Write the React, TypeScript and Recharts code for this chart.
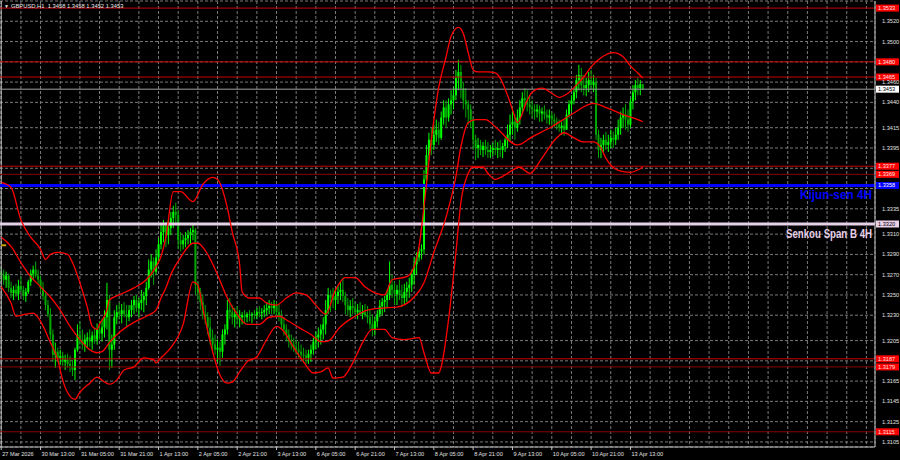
import React from 'react';
import { ComposedChart, Bar, Line, XAxis, YAxis, ReferenceLine, CartesianGrid } from 'recharts';

const SLOTS = 356;
const symbolTitle = 'GBPUSD,H1  1.3458 1.3458 1.3452 1.3453';
const dateLabels: Record<number, string> = {
  0: '27 Mar 2026', 16: '30 Mar 13:00', 32: '31 Mar 05:00', 48: '31 Mar 21:00', 64: '1 Apr 13:00',
  80: '2 Apr 05:00', 96: '2 Apr 21:00', 112: '3 Apr 13:00', 128: '6 Apr 05:00', 144: '6 Apr 21:00',
  160: '7 Apr 13:00', 176: '8 Apr 05:00', 192: '8 Apr 21:00', 208: '9 Apr 13:00', 224: '10 Apr 05:00',
  240: '10 Apr 21:00', 256: '13 Apr 13:00',
};
const priceTicks = [1.3105, 1.3125, 1.3145, 1.3165, 1.3185, 1.3205, 1.323, 1.325, 1.327, 1.329, 1.331, 1.3335, 1.3355, 1.3375, 1.3395, 1.3415, 1.344, 1.346, 1.348, 1.35, 1.352];
const hiddenTicks = [1.3185, 1.3355, 1.3375, 1.348];

const firstOpen = 1.3272;
const highs = [
  1.3277,1.3275,1.3273,1.3271,1.3263,1.3259,1.3261,1.3265,1.3268,1.3259,
  1.3257,1.3265,1.3275,1.3279,1.3283,1.3275,1.3269,1.3263,1.3253,1.3245,
  1.3237,1.3216,1.3203,1.3198,1.3196,1.3194,1.3191,1.3192,1.3190,1.3186,
  1.3198,1.3221,1.3224,1.3216,1.3211,1.3213,1.3216,1.3214,1.3218,1.3222,
  1.3224,1.3226,1.3235,1.3262,1.3250,1.3211,1.3235,1.3240,1.3242,1.3241,
  1.3243,1.3240,1.3240,1.3245,1.3249,1.3250,1.3247,1.3255,1.3253,1.3263,
  1.3285,1.3290,1.3287,1.3295,1.3306,1.3319,1.3324,1.3322,1.3324,1.3332,
  1.3338,1.3341,1.3334,1.3312,1.3309,1.3312,1.3314,1.3316,1.3319,1.3316,
  1.3263,1.3257,1.3250,1.3240,1.3233,1.3228,1.3216,1.3211,1.3206,1.3204,
  1.3216,1.3221,1.3245,1.3247,1.3240,1.3237,1.3239,1.3235,1.3233,1.3235,
  1.3233,1.3235,1.3233,1.3235,1.3237,1.3239,1.3237,1.3240,1.3243,1.3245,
  1.3243,1.3245,1.3243,1.3241,1.3235,1.3228,1.3221,1.3216,1.3211,1.3208,
  1.3206,1.3204,1.3201,1.3198,1.3196,1.3196,1.3201,1.3208,1.3214,1.3218,
  1.3221,1.3228,1.3245,1.3257,1.3255,1.3257,1.3255,1.3259,1.3263,1.3267,
  1.3253,1.3247,1.3245,1.3247,1.3243,1.3241,1.3243,1.3240,1.3241,1.3239,
  1.3235,1.3231,1.3228,1.3235,1.3245,1.3247,1.3249,1.3255,1.3283,1.3270,
  1.3263,1.3260,1.3265,1.3260,1.3261,1.3263,1.3267,1.3275,1.3287,1.3292,
  1.3297,1.3300,1.3373,1.3398,1.3410,1.3415,1.3418,1.3423,1.3421,1.3431,
  1.3442,1.3442,1.3444,1.3452,1.3455,1.3472,1.3482,1.3477,1.3460,1.3454,
  1.3442,1.3438,1.3425,1.3408,1.3405,1.3403,1.3401,1.3403,1.3401,1.3398,
  1.3400,1.3403,1.3401,1.3403,1.3400,1.3405,1.3418,1.3428,1.3435,1.3428,
  1.3433,1.3442,1.3450,1.3454,1.3452,1.3447,1.3442,1.3438,1.3438,1.3437,
  1.3435,1.3437,1.3433,1.3433,1.3431,1.3429,1.3425,1.3423,1.3421,1.3423,
  1.3433,1.3442,1.3447,1.3454,1.3467,1.3477,1.3474,1.3467,1.3464,1.3470,
  1.3472,1.3467,1.3464,1.3413,1.3405,1.3408,1.3411,1.3408,1.3413,1.3411,
  1.3415,1.3423,1.3431,1.3435,1.3438,1.3433,1.3444,1.3457,1.3462,1.3464,
  1.3462,1.3458,
];
const lows = [
  1.3263,1.3260,1.3257,1.3253,1.3247,1.3245,1.3248,1.3245,1.3253,1.3245,
  1.3243,1.3251,1.3259,1.3265,1.3267,1.3261,1.3253,1.3245,1.3235,1.3228,
  1.3206,1.3184,1.3178,1.3184,1.3181,1.3180,1.3176,1.3178,1.3174,1.3170,
  1.3166,1.3194,1.3201,1.3196,1.3194,1.3198,1.3199,1.3196,1.3202,1.3201,
  1.3206,1.3204,1.3208,1.3216,1.3176,1.3178,1.3196,1.3221,1.3226,1.3222,
  1.3228,1.3219,1.3224,1.3228,1.3231,1.3233,1.3228,1.3235,1.3233,1.3240,
  1.3255,1.3267,1.3260,1.3270,1.3283,1.3295,1.3302,1.3297,1.3300,1.3309,
  1.3316,1.3319,1.3295,1.3293,1.3295,1.3297,1.3300,1.3300,1.3304,1.3250,
  1.3245,1.3235,1.3226,1.3221,1.3211,1.3201,1.3194,1.3191,1.3184,1.3180,
  1.3188,1.3201,1.3211,1.3226,1.3221,1.3218,1.3221,1.3218,1.3221,1.3222,
  1.3223,1.3224,1.3222,1.3226,1.3226,1.3228,1.3226,1.3228,1.3230,1.3231,
  1.3231,1.3231,1.3228,1.3224,1.3216,1.3210,1.3204,1.3198,1.3196,1.3194,
  1.3191,1.3188,1.3186,1.3184,1.3182,1.3182,1.3184,1.3191,1.3196,1.3198,
  1.3201,1.3206,1.3211,1.3231,1.3233,1.3237,1.3235,1.3241,1.3245,1.3243,
  1.3231,1.3230,1.3228,1.3231,1.3228,1.3226,1.3230,1.3226,1.3228,1.3222,
  1.3216,1.3209,1.3210,1.3218,1.3228,1.3230,1.3233,1.3237,1.3245,1.3247,
  1.3240,1.3240,1.3245,1.3238,1.3241,1.3243,1.3247,1.3253,1.3260,1.3270,
  1.3283,1.3285,1.3290,1.3359,1.3383,1.3388,1.3393,1.3401,1.3398,1.3403,
  1.3418,1.3415,1.3421,1.3428,1.3433,1.3442,1.3452,1.3444,1.3433,1.3425,
  1.3418,1.3415,1.3393,1.3383,1.3385,1.3388,1.3386,1.3388,1.3385,1.3385,
  1.3387,1.3388,1.3385,1.3386,1.3385,1.3391,1.3395,1.3401,1.3408,1.3403,
  1.3411,1.3418,1.3428,1.3435,1.3431,1.3428,1.3425,1.3423,1.3425,1.3421,
  1.3421,1.3423,1.3419,1.3418,1.3417,1.3415,1.3413,1.3411,1.3408,1.3407,
  1.3413,1.3425,1.3431,1.3438,1.3444,1.3452,1.3450,1.3447,1.3446,1.3450,
  1.3452,1.3450,1.3403,1.3385,1.3385,1.3391,1.3393,1.3391,1.3395,1.3395,
  1.3398,1.3403,1.3408,1.3415,1.3413,1.3411,1.3415,1.3433,1.3442,1.3447,
  1.3447,1.3452,
];
const closes = [
  1.3270,1.3265,1.3269,1.3257,1.3252,1.3255,1.3251,1.3259,1.3255,1.3249,
  1.3253,1.3263,1.3271,1.3275,1.3269,1.3265,1.3257,1.3249,1.3240,1.3231,
  1.3211,1.3191,1.3194,1.3188,1.3190,1.3184,1.3186,1.3182,1.3180,1.3176,
  1.3196,1.3211,1.3206,1.3201,1.3206,1.3208,1.3204,1.3210,1.3206,1.3216,
  1.3212,1.3218,1.3228,1.3245,1.3196,1.3201,1.3228,1.3233,1.3231,1.3235,
  1.3231,1.3228,1.3235,1.3240,1.3245,1.3237,1.3242,1.3245,1.3249,1.3257,
  1.3275,1.3283,1.3273,1.3287,1.3300,1.3312,1.3318,1.3309,1.3316,1.3326,
  1.3332,1.3329,1.3304,1.3300,1.3304,1.3306,1.3309,1.3312,1.3314,1.3260,
  1.3253,1.3243,1.3231,1.3228,1.3218,1.3208,1.3201,1.3196,1.3198,1.3194,
  1.3211,1.3216,1.3235,1.3233,1.3228,1.3231,1.3226,1.3228,1.3230,1.3228,
  1.3231,1.3230,1.3231,1.3230,1.3233,1.3232,1.3233,1.3235,1.3237,1.3239,
  1.3237,1.3240,1.3233,1.3228,1.3221,1.3216,1.3211,1.3204,1.3201,1.3198,
  1.3196,1.3194,1.3191,1.3190,1.3188,1.3192,1.3196,1.3204,1.3208,1.3211,
  1.3216,1.3221,1.3235,1.3250,1.3247,1.3245,1.3249,1.3253,1.3255,1.3249,
  1.3240,1.3235,1.3239,1.3237,1.3233,1.3235,1.3231,1.3233,1.3230,1.3228,
  1.3221,1.3216,1.3224,1.3231,1.3239,1.3243,1.3245,1.3250,1.3260,1.3255,
  1.3251,1.3255,1.3250,1.3247,1.3253,1.3257,1.3260,1.3270,1.3280,1.3287,
  1.3293,1.3295,1.3364,1.3388,1.3403,1.3398,1.3408,1.3413,1.3405,1.3425,
  1.3435,1.3425,1.3438,1.3442,1.3447,1.3464,1.3470,1.3454,1.3442,1.3438,
  1.3433,1.3423,1.3403,1.3395,1.3398,1.3393,1.3397,1.3393,1.3391,1.3393,
  1.3395,1.3393,1.3395,1.3393,1.3397,1.3403,1.3408,1.3418,1.3421,1.3415,
  1.3425,1.3435,1.3444,1.3442,1.3438,1.3435,1.3433,1.3431,1.3433,1.3429,
  1.3431,1.3428,1.3425,1.3427,1.3423,1.3421,1.3418,1.3415,1.3417,1.3413,
  1.3428,1.3438,1.3442,1.3450,1.3462,1.3467,1.3457,1.3454,1.3457,1.3462,
  1.3457,1.3460,1.3408,1.3393,1.3398,1.3403,1.3398,1.3401,1.3405,1.3403,
  1.3408,1.3415,1.3425,1.3428,1.3423,1.3418,1.3441,1.3450,1.3457,1.3454,
  1.3458,1.3453,
];

// Bollinger bands read at sampled bars: [bar index, price]
const upperBand: [number, number][] = [
  [0,1.3361],[4,1.3356],[8,1.3324],[12,1.3307],[16,1.3295],[18,1.3285],[20,1.3290],[23,1.3292],[27,1.3290],[29,1.3282],
  [32,1.3262],[35,1.3238],[37,1.3219],[39,1.3216],[40,1.3221],[43,1.3235],[44,1.3245],[48,1.3250],[54,1.3257],[59,1.3265],
  [63,1.3278],[65,1.3288],[67,1.3307],[70,1.3352],[73,1.3352],[78,1.3342],[82,1.3359],[86,1.3366],[88,1.3364],[92,1.3336],
  [94,1.3312],[97,1.3280],[98,1.3253],[101,1.3247],[105,1.3247],[108,1.3242],[112,1.3240],[116,1.3247],[120,1.3252],[124,1.3250],
  [128,1.3240],[132,1.3231],[136,1.3255],[140,1.3267],[144,1.3267],[148,1.3258],[152,1.3252],[156,1.3250],[159,1.3265],[165,1.3268],
  [168,1.3278],[170,1.3298],[172,1.3337],[175,1.3403],[178,1.3455],[181,1.3485],[183,1.3505],[186,1.3514],[188,1.3508],[190,1.3489],
  [192,1.3472],[194,1.3470],[198,1.3470],[201,1.3469],[203,1.3464],[206,1.3447],[208,1.3433],[210,1.3420],[214,1.3442],[216,1.3450],
  [220,1.3454],[224,1.3449],[227,1.3445],[230,1.3448],[234,1.3457],[237,1.3465],[240,1.3475],[244,1.3484],[249,1.3489],[253,1.3485],
  [256,1.3476],[259,1.3469],[261,1.3464],
];
const middleBand: [number, number][] = [
  [0,1.3307],[4,1.3298],[8,1.3282],[12,1.3268],[16,1.3258],[20,1.3248],[24,1.3235],[28,1.3219],[32,1.3206],[36,1.3196],
  [39,1.3193],[41,1.3194],[44,1.3203],[48,1.3213],[54,1.3223],[59,1.3229],[63,1.3235],[65,1.3247],[67,1.3257],[69,1.3270],
  [73,1.3287],[78,1.3301],[80,1.3301],[84,1.3290],[88,1.3270],[92,1.3247],[96,1.3231],[100,1.3221],[105,1.3221],[109,1.3228],
  [113,1.3229],[117,1.3224],[121,1.3218],[126,1.3211],[130,1.3204],[132,1.3204],[134,1.3206],[137,1.3216],[144,1.3229],[149,1.3235],
  [155,1.3237],[161,1.3238],[168,1.3248],[172,1.3262],[176,1.3292],[181,1.3327],[185,1.3367],[187,1.3396],[190,1.3420],[193,1.3423],
  [197,1.3423],[201,1.3416],[210,1.3398],[216,1.3406],[224,1.3416],[232,1.3428],[241,1.3439],[246,1.3435],[253,1.3428],[259,1.3423],
  [261,1.3421],
];
const lowerBand: [number, number][] = [
  [0,1.3258],[4,1.3242],[6,1.3229],[10,1.3231],[13,1.3232],[16,1.3224],[20,1.3203],[23,1.3186],[25,1.3166],[28,1.3150],
  [30,1.3147],[32,1.3154],[36,1.3163],[39,1.3169],[41,1.3166],[44,1.3162],[47,1.3166],[50,1.3176],[54,1.3179],[58,1.3188],
  [62,1.3186],[63,1.3183],[65,1.3188],[69,1.3198],[74,1.3221],[78,1.3263],[80,1.3260],[82,1.3237],[86,1.3194],[89,1.3171],
  [92,1.3163],[94,1.3164],[97,1.3174],[100,1.3184],[104,1.3189],[108,1.3206],[112,1.3219],[115,1.3214],[119,1.3198],[123,1.3184],
  [127,1.3173],[130,1.3174],[133,1.3178],[135,1.3168],[139,1.3169],[143,1.3183],[147,1.3203],[151,1.3216],[156,1.3216],[159,1.3208],
  [164,1.3206],[170,1.3208],[172,1.3193],[175,1.3173],[178,1.3173],[179,1.3179],[182,1.3226],[185,1.3292],[187,1.3341],[190,1.3370],
  [192,1.3376],[196,1.3376],[198,1.3370],[201,1.3364],[204,1.3367],[211,1.3376],[215,1.3370],[220,1.3385],[226,1.3405],[229,1.3410],
  [233,1.3405],[237,1.3401],[241,1.3401],[244,1.3395],[246,1.3385],[251,1.3373],[256,1.3371],[261,1.3376],
];

const redLevels = [
  { price: 1.3533, line: '#c80000' },
  { price: 1.348, line: '#c80000' },
  { price: 1.3465, line: '#c80000' },
  { price: 1.3377, line: '#c80000' },
  { price: 1.3369, line: '#8a0000' },
  { price: 1.3187, line: '#c80000' },
  { price: 1.3179, line: '#8a0000' },
  { price: 1.3115, line: '#8a0000' },
];
const currentPrice = 1.3453;
const kijun = 1.3358;
const senkouB = 1.332;
const stubPrice = 1.3299;

const data = Array.from({ length: SLOTS }, (_, i) => {
  const row: any = { idx: i };
  if (i < closes.length) {
    row.open = i === 0 ? firstOpen : closes[i - 1];
    row.high = highs[i];
    row.low = lows[i];
    row.close = closes[i];
    row.range = [lows[i], highs[i]];
  }
  return row;
});
upperBand.forEach(([i, v]) => (data[i].upper = v));
middleBand.forEach(([i, v]) => (data[i].middle = v));
lowerBand.forEach(([i, v]) => (data[i].lower = v));

const FONT = 'Liberation Sans, Arial, sans-serif';
const CAPTION_FONT = 'Liberation Sans Narrow, Arial Narrow, Liberation Sans, sans-serif';
const TAG_H = 7;

const Candle = (props: any) => {
  const { x, y, width, height, payload } = props;
  if (!payload || payload.high == null) return null;
  const { open, close, high, low } = payload;
  const top = Math.min(y, y + height);
  const h = Math.abs(height);
  const span = high - low || 1e-9;
  const yOf = (v: number) => top + ((high - v) / span) * h;
  const bull = close >= open;
  const color = bull ? '#00ff00' : '#00a800';
  const cx = x + width / 2;
  const bTop = yOf(Math.max(open, close));
  const bBot = yOf(Math.min(open, close));
  return (
    <g>
      <line x1={cx} x2={cx} y1={top} y2={top + h} stroke={color} strokeWidth={1} />
      <rect x={cx - 1} y={bTop} width={2} height={Math.max(1, bBot - bTop)} fill={color} />
    </g>
  );
};

const DateTick = (props: any) => {
  const { x, y, payload } = props;
  const label = dateLabels[payload.value];
  if (!label) return null;
  return (
    <g>
      <line x1={x} x2={x} y1={y} y2={y + 3} stroke="#c0c0c0" strokeWidth={1} />
      <text x={x + 1} y={y + 8.5} fontSize={5.6} fontFamily={FONT} fill="#e0e0e0" textAnchor="start">{label}</text>
    </g>
  );
};

const PriceTick = (props: any) => {
  const { x, y, payload } = props;
  if (hiddenTicks.includes(payload.value)) return null;
  return (
    <text x={x} y={y + 2} fontSize={5.6} fontFamily={FONT} fill="#e0e0e0" textAnchor="start">
      {Number(payload.value).toFixed(4)}
    </text>
  );
};

const PriceTag = (props: any) => {
  const { viewBox, text, bg, fg } = props;
  if (!viewBox) return null;
  const x0 = viewBox.x + viewBox.width + 1;
  return (
    <g>
      <rect x={x0} y={viewBox.y - TAG_H / 2} width={23} height={TAG_H} fill={bg} />
      <text x={x0 + 2} y={viewBox.y + 2} fontSize={5.6} fontFamily={FONT} fill={fg}>{text}</text>
    </g>
  );
};

const LineCaption = (props: any) => {
  const { viewBox, text, color, price, tagBg, tagFg, len } = props;
  if (!viewBox) return null;
  const right = viewBox.x + viewBox.width;
  return (
    <g>
      <text x={right - 3 - len} y={viewBox.y + 14} fontSize={12} fontWeight="bold" fontFamily={CAPTION_FONT} fill={color} textAnchor="start" textLength={len} lengthAdjust="spacingAndGlyphs">{text}</text>
      <rect x={right + 1} y={viewBox.y - TAG_H / 2} width={23} height={TAG_H} fill={tagBg} />
      <text x={right + 3} y={viewBox.y + 2} fontSize={5.6} fontFamily={FONT} fill={tagFg}>{price}</text>
    </g>
  );
};

const gridTicks = Array.from({ length: 45 }, (_, k) => k * 8);

export default function App() {
  return (
    <div style={{ position: 'absolute', left: 0, top: 0, width: 900, height: 460, background: '#000', overflow: 'hidden' }}>
      <ComposedChart width={900} height={460} data={data} margin={{ top: 1, right: 0, bottom: 0, left: 0 }} barCategoryGap="10%">
        <CartesianGrid stroke="#7a7a7a" strokeDasharray="3 2" strokeWidth={1} />
        <XAxis dataKey="idx" type="category" ticks={gridTicks} interval={0} tick={<DateTick />} tickLine={false} tickSize={0} tickMargin={0} axisLine={{ stroke: '#c0c0c0' }} height={13} />
        <YAxis orientation="right" width={25} domain={[1.31, 1.354]} ticks={priceTicks} interval={0} type="number" allowDataOverflow tick={<PriceTick />} tickLine={false} tickMargin={1} axisLine={{ stroke: '#c0c0c0' }} />
        <ReferenceLine x={0} stroke="#c0c0c0" strokeWidth={1} />
        <ReferenceLine segment={[{ x: 0, y: stubPrice }, { x: 2, y: stubPrice }]} stroke="#c8a000" strokeWidth={2} />
        {redLevels.map((l) => (
          <ReferenceLine key={l.price} y={l.price} stroke={l.line} strokeWidth={1} label={<PriceTag text={l.price.toFixed(4)} bg="#ff0000" fg="#ffe8e8" />} />
        ))}
        <ReferenceLine y={currentPrice} stroke="#a0a0a0" strokeWidth={1} label={<PriceTag text={currentPrice.toFixed(4)} bg="#ffffff" fg="#000000" />} />
        <ReferenceLine y={kijun} stroke="#0000ff" strokeWidth={3} label={<LineCaption text="Kijun-sen 4H" color="#0000ff" price={kijun.toFixed(4)} tagBg="#0000ff" tagFg="#ffffff" len={72} />} />
        <ReferenceLine y={senkouB} stroke="#e8d0e8" strokeWidth={3} label={<LineCaption text="Senkou Span B 4H" color="#e8d0e8" price={senkouB.toFixed(4)} tagBg="#e8d0e8" tagFg="#000000" len={86} />} />
        <Bar dataKey="range" shape={<Candle />} isAnimationActive={false} />
        <Line dataKey="upper" type="monotone" stroke="#ff0000" strokeWidth={1.3} dot={false} connectNulls isAnimationActive={false} />
        <Line dataKey="middle" type="monotone" stroke="#ff0000" strokeWidth={1.3} dot={false} connectNulls isAnimationActive={false} />
        <Line dataKey="lower" type="monotone" stroke="#ff0000" strokeWidth={1.3} dot={false} connectNulls isAnimationActive={false} />
      </ComposedChart>
      <div style={{ position: 'absolute', left: 4, top: 2, fontFamily: FONT, fontSize: 5.8, color: '#e8e8e8', whiteSpace: 'pre', lineHeight: '8px' }}>
        <span style={{ fontSize: 5, marginRight: 2 }}>▼</span>{symbolTitle}
      </div>
    </div>
  );
}
